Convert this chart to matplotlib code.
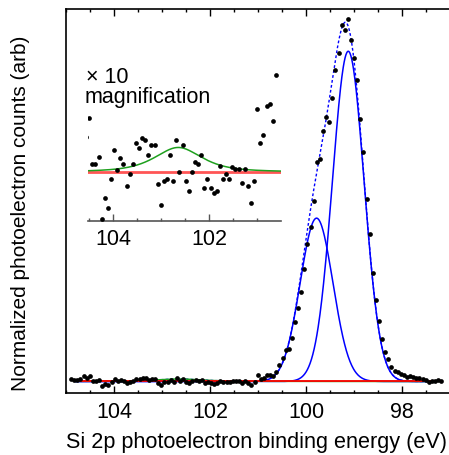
import numpy as np
import matplotlib
matplotlib.use('Agg')
import matplotlib.pyplot as plt
from matplotlib.ticker import MultipleLocator

plt.rcParams['font.family'] = ['Liberation Sans', 'DejaVu Sans']

# measured spectrum (equally spaced binding energies)
e_start = 104.894
e_step = 0.0648
counts = [0.006, 0.004, 0.003, 0.006, 0.016, 0.010,
          0.0152, 0.0023, 0.0023, 0.0043, -0.0132, -0.0073, -0.0101, -0.0019,
          0.0063, 0.0007, 0.0041, 0.0023, -0.0039, -0.0005, 0.0023, 0.0083,
          0.0069, 0.0097, 0.0090, 0.0050, 0.0077, 0.0077, -0.0032, -0.0092,
          -0.0025, -0.0019, 0.0050, -0.0025, 0.0091, 0.0002, 0.0077, -0.0025,
          -0.0052, 0.0002, 0.0030, 0.0023, 0.0050, -0.0045, -0.0018, -0.0045,
          -0.0058, -0.0052, 0.0017, -0.0018, -0.0005, -0.0018, 0.0016, 0.0009,
          0.0009, -0.0031, 0.0009, -0.0039, -0.0086, -0.0025, 0.0179, 0.0083,
          0.0104, 0.0186, 0.0192, 0.0145, 0.0275,
          0.0465, 0.066, 0.090, 0.092, 0.123, 0.168, 0.208, 0.251, 0.317,
          0.388, 0.435, 0.509, 0.617, 0.627, 0.706, 0.745, 0.732, 0.797,
          0.877, 0.925, 1.005, 0.990, 1.021, 0.961, 0.911, 0.848, 0.739,
          0.647, 0.513, 0.416, 0.305, 0.230, 0.170, 0.120, 0.082, 0.063,
          0.042, 0.030, 0.028, 0.021, 0.018, 0.0135, 0.015, 0.012, 0.009,
          0.009, 0.007, 0.005, -0.001, 0.000, 0.001, 0.003, 0.002]
energy = e_start - e_step * np.arange(len(counts))

# fitted components
peak_centers = [99.12, 99.78]
peak_heights = [0.93, 0.46]
peak_sigmas = [0.33, 0.34]
oxide_center = 102.65
oxide_height = 0.0070
oxide_hwhm = 0.59
oxide_eta = 0.7
fit_lo, fit_hi = 104.8, 97.35

magnification = 10


def gauss(x, c, h, s):
    return h * np.exp(-(x - c) ** 2 / (2 * s ** 2))


def pvoigt(x, c, h, w, eta):
    u = (x - c) / w
    return h * (eta / (1 + u ** 2) + (1 - eta) * np.exp(-np.log(2) * u ** 2))


fig = plt.figure(figsize=(4.49, 4.56), dpi=100)
ax = fig.add_axes([66 / 449, 1 - 394 / 456, 384 / 449, 384 / 456])

xf = np.linspace(fit_lo, fit_hi, 800)
p1 = gauss(xf, peak_centers[0], peak_heights[0], peak_sigmas[0])
p2 = gauss(xf, peak_centers[1], peak_heights[1], peak_sigmas[1])
ox = pvoigt(xf, oxide_center, oxide_height, oxide_hwhm, oxide_eta)

ax.plot(xf, p1 + p2 + ox, color='blue', lw=1.0, dashes=(2, 1.6), zorder=2)
ax.plot(xf, p1, color='blue', lw=1.1, zorder=2)
ax.plot(xf, p2, color='blue', lw=1.1, zorder=2)
ax.plot(xf, ox, color='#1ea01e', lw=1.1, zorder=3)
ax.plot([fit_lo, fit_hi], [0, 0], color='red', lw=1.3, zorder=4)
ax.plot(energy, counts, 'o', color='black', ms=3.4, mec='none', zorder=5)

ax.set_xlim(105, 97)
ax.set_ylim(-0.0324, 1.049)
ax.set_xticks([104, 102, 100, 98])
ax.xaxis.set_minor_locator(MultipleLocator(0.5))
ax.set_yticks([])
ax.tick_params(axis='x', which='both', direction='in', top=True, labelsize=15.5, pad=6)
ax.tick_params(axis='x', which='major', length=5, width=1)
ax.tick_params(axis='x', which='minor', length=2.5, width=1)
ax.spines['right'].set_visible(False)
for s in ['left', 'top', 'bottom']:
    ax.spines[s].set_linewidth(1.2)

ax.set_xlabel('Si 2p photoelectron binding energy (eV)', fontsize=15.6)
ax.xaxis.set_label_coords(0.495, -0.099)
ax.set_ylabel('Normalized photoelectron counts (arb)', fontsize=15)
ax.yaxis.set_label_coords(-0.095, 0.47)

# inset: baseline region magnified
ins = fig.add_axes([88 / 449, 1 - 221.7 / 456, 193 / 449, 151.7 / 456])
ins.set_facecolor('none')
xi = np.linspace(104.53, 100.51, 400)
ins.plot([104.53, 100.51], [0, 0], color='#ff5555', lw=2, zorder=2)
ins.plot(xi, magnification * pvoigt(xi, oxide_center, oxide_height, oxide_hwhm, oxide_eta),
         color='#1ea01e', lw=1.1, zorder=3)
ins.plot(energy, magnification * np.array(counts), 'o', color='black', ms=3.4, mec='none', zorder=4)
ins.set_xlim(104.53, 100.51)
ins.set_ylim(-0.1363, 0.291)
ins.set_xticks([104, 102])
ins.xaxis.set_minor_locator(MultipleLocator(0.5))
ins.set_yticks([])
ins.tick_params(axis='x', which='both', direction='in', labelsize=15.5, color='#555555', pad=5)
ins.tick_params(axis='x', which='major', length=5, width=1)
ins.tick_params(axis='x', which='minor', length=2.5, width=1)
for s in ['left', 'top', 'right']:
    ins.spines[s].set_visible(False)
ins.spines['bottom'].set_color('#555555')
ins.spines['bottom'].set_linewidth(1.2)

fig.text(86 / 449, 1 - 83 / 456, '× 10', fontsize=15.5, va='baseline')
fig.text(85 / 449, 1 - 103 / 456, 'magnification', fontsize=15.5, va='baseline')

plt.savefig('out.png', dpi=100)
